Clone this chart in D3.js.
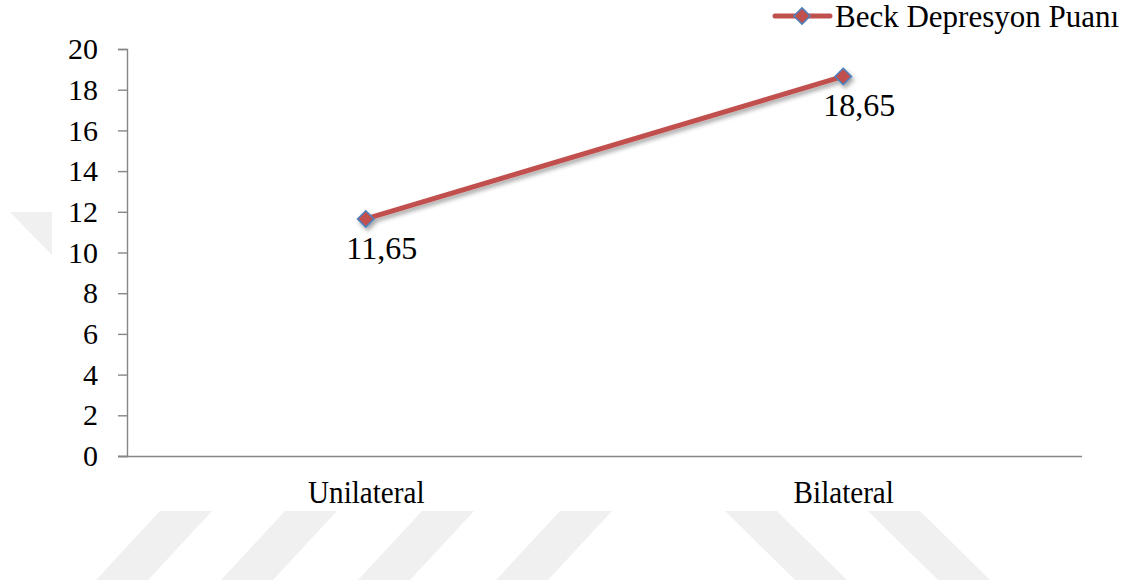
<!DOCTYPE html>
<html>
<head>
<meta charset="utf-8">
<script src="https://cdn.jsdelivr.net/npm/d3@7"></script>
<style>
  html, body { margin: 0; padding: 0; background: #fff; }
</style>
</head>
<body>
<svg id="chart" width="1138" height="585"></svg>
<script>
// Mean Beck Depression score by type of involvement
const categories = ["Unilateral", "Bilateral"];
const seriesName = "Beck Depresyon Puanı";
const values = [11.65, 18.65];
const valueLabels = ["11,65", "18,65"];
const yTicks = [0, 2, 4, 6, 8, 10, 12, 14, 16, 18, 20];

const FONT = '"Liberation Serif"';

const svg = d3.select("#chart");
const plot = { left: 127, right: 1082, top: 49, bottom: 456 };

const lineColor = "#C0504D";
const markerStroke = "#4F81BD";
const axisColor = "#868686";

// soft drop shadow for the series
const defs = svg.append("defs");
const f = defs.append("filter").attr("id", "shadow")
  .attr("x", "-20%").attr("y", "-20%").attr("width", "140%").attr("height", "160%");
f.append("feDropShadow").attr("dx", 2).attr("dy", 3).attr("stdDeviation", 2)
  .attr("flood-color", "#000").attr("flood-opacity", 0.35);

// faint background watermark stripes
const wm = svg.append("g").attr("fill", "#f0f0f0");
const stripeTops = [160, 285, 422, 560];
stripeTops.forEach(x0 => {
  wm.append("path").attr("d", `M${x0},511 L${x0 + 52},511 L${x0 - 12},580 L${x0 - 64},580 Z`);
});
const backTops = [725, 868];
backTops.forEach(x0 => {
  wm.append("path").attr("d", `M${x0},511 L${x0 + 52},511 L${x0 + 122},580 L${x0 + 70},580 Z`);
});
wm.append("path").attr("d", "M10,212 L52,212 L52,255 Z");

const x = d3.scalePoint().domain(categories).range([plot.left, plot.right]).padding(0.5);
const y = d3.scaleLinear().domain([0, 20]).range([plot.bottom, plot.top]);

// y axis
const yAxis = svg.append("g").attr("transform", `translate(${plot.left},0)`)
  .call(d3.axisLeft(y).tickValues(yTicks).tickSize(9).tickPadding(20).tickFormat(d3.format("d")));
yAxis.attr("font-family", null).attr("font-size", null);
yAxis.selectAll("path, line").attr("stroke", axisColor).attr("stroke-width", 1.4);
yAxis.selectAll("text").attr("font-size", 30).style("font-family", FONT).attr("fill", "#000");

// x axis
const xAxis = svg.append("g").attr("transform", `translate(0,${plot.bottom})`)
  .call(d3.axisBottom(x).tickSize(0).tickSizeOuter(0).tickPadding(0));
xAxis.attr("font-family", null).attr("font-size", null);
xAxis.select("path").attr("stroke", axisColor).attr("stroke-width", 1.4)
  .attr("d", `M${plot.left - 9},0.5H${plot.right}`);
xAxis.selectAll("text").attr("font-size", 32).style("font-family", FONT)
  .attr("fill", "#000").attr("dy", 0).attr("y", 47)
  .each(function () {
    // slightly condensed category labels
    const w = this.getComputedTextLength();
    d3.select(this).attr("textLength", w * 0.91).attr("lengthAdjust", "spacingAndGlyphs");
  });

const pts = categories.map((c, i) => ({ c, v: values[i], label: valueLabels[i] }));

const diamond = d3.symbol().type(d3.symbolDiamond2).size(170);

// series line and markers
const series = svg.append("g").attr("filter", "url(#shadow)");
series.append("path")
  .datum(pts)
  .attr("fill", "none")
  .attr("stroke", lineColor)
  .attr("stroke-width", 5)
  .attr("stroke-linecap", "round")
  .attr("d", d3.line().x(d => x(d.c)).y(d => y(d.v)));

series.selectAll(".marker")
  .data(pts)
  .join("path")
  .attr("class", "marker")
  .attr("transform", d => `translate(${x(d.c)},${y(d.v)})`)
  .attr("d", diamond)
  .attr("fill", lineColor)
  .attr("stroke", markerStroke)
  .attr("stroke-width", 1.6);

// value labels below each point
svg.selectAll(".vlabel")
  .data(pts)
  .join("text")
  .attr("class", "vlabel")
  .attr("x", d => x(d.c) + 16)
  .attr("y", d => y(d.v) + 40)
  .attr("text-anchor", "middle")
  .attr("font-size", 32)
  .style("font-family", FONT)
  .text(d => d.label);

// legend
const lg = svg.append("g").attr("transform", "translate(775,16)");
lg.append("line").attr("x1", 0).attr("x2", 55).attr("y1", 0).attr("y2", 0)
  .attr("stroke", lineColor).attr("stroke-width", 5).attr("stroke-linecap", "round");
lg.append("path").attr("transform", "translate(27,0)").attr("d", diamond)
  .attr("fill", lineColor).attr("stroke", markerStroke).attr("stroke-width", 1.6);
lg.append("text").attr("x", 60).attr("y", 11).attr("font-size", 31)
  .style("font-family", FONT).text(seriesName);
</script>
</body>
</html>
